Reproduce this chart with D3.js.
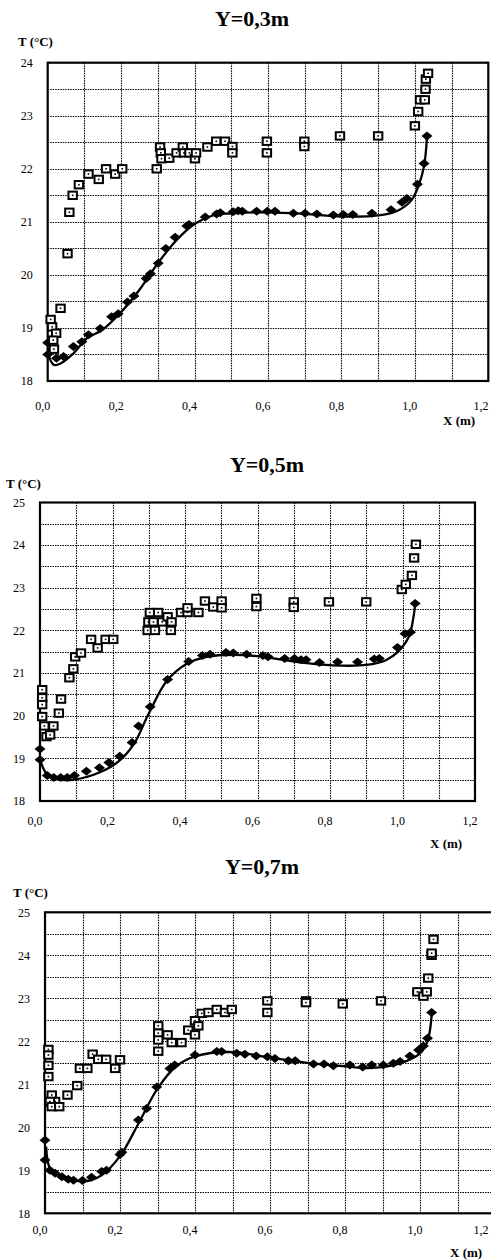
<!DOCTYPE html>
<html><head><meta charset="utf-8">
<script src="https://cdn.jsdelivr.net/npm/d3@7"></script>
<style>
html,body{margin:0;padding:0;background:#fff;}
svg{display:block;}
text{font-family:"Liberation Serif","Times New Roman",serif;fill:#000;}
</style></head>
<body>
<svg id="chart" width="491" height="1260"></svg>
<script>
// ---------- tick labels ----------
const xTickValues = [0, 0.2, 0.4, 0.6, 0.8, 1.0, 1.2];
const xTickLabels = ["0,0", "0,2", "0,4", "0,6", "0,8", "1,0", "1,2"];
const yTicksA = [18, 19, 20, 21, 22, 23, 24];
const yTicksB = [18, 19, 20, 21, 22, 23, 24, 25];
const titles = ["Y=0,3m", "Y=0,5m", "Y=0,7m"];

// ---------- Y = 0,3 m ----------
const squares03 = [[0.008,19.16],[0.012,19.02],[0.023,18.9],[0.015,18.77],[0.017,18.6],[0.035,19.37],[0.054,20.4],[0.059,21.18],[0.068,21.5],[0.085,21.7],[0.111,21.9],[0.139,21.8],[0.159,22.0],[0.184,21.9],[0.203,22.0],[0.297,22.0],[0.306,22.41],[0.308,22.3],[0.31,22.19],[0.331,22.2],[0.351,22.3],[0.368,22.41],[0.371,22.3],[0.386,22.3],[0.401,22.19],[0.404,22.3],[0.435,22.41],[0.459,22.52],[0.483,22.52],[0.503,22.42],[0.503,22.3],[0.597,22.52],[0.597,22.3],[0.699,22.52],[0.699,22.42],[0.796,22.62],[0.90,22.62],[1.0,22.81],[1.009,23.08],[1.014,23.3],[1.027,23.3],[1.029,23.5],[1.03,23.69],[1.036,23.8]];
const diamonds03 = [[0.0,18.72],[0.0,18.5],[0.024,18.43],[0.043,18.46],[0.07,18.65],[0.093,18.74],[0.111,18.87],[0.143,18.99],[0.174,19.21],[0.192,19.27],[0.217,19.49],[0.235,19.6],[0.268,19.93],[0.28,20.02],[0.301,20.22],[0.322,20.5],[0.347,20.71],[0.379,20.92],[0.385,20.95],[0.429,21.09],[0.46,21.15],[0.47,21.17],[0.505,21.19],[0.519,21.21],[0.53,21.2],[0.569,21.2],[0.598,21.2],[0.619,21.2],[0.669,21.16],[0.701,21.16],[0.733,21.15],[0.778,21.13],[0.805,21.14],[0.831,21.14],[0.883,21.16],[0.935,21.23],[0.965,21.37],[0.978,21.44],[1.007,21.71],[1.025,22.1],[1.033,22.62]];
const fit03 = [[0.0,18.62],[0.008,18.38],[0.018,18.3],[0.035,18.33],[0.07,18.52],[0.106,18.8],[0.15,18.97],[0.2,19.3],[0.25,19.72],[0.3,20.22],[0.35,20.65],[0.4,20.96],[0.45,21.12],[0.5,21.16],[0.6,21.18],[0.7,21.15],[0.8,21.1],[0.9,21.12],[0.95,21.2],[0.99,21.4],[1.01,21.68],[1.025,22.05],[1.033,22.6]];

// ---------- Y = 0,5 m ----------
const squares05 = [[0.006,20.61],[0.006,20.42],[0.006,20.26],[0.006,19.98],[0.012,19.76],[0.037,19.76],[0.018,19.51],[0.028,19.55],[0.058,20.39],[0.052,20.06],[0.081,20.89],[0.092,21.1],[0.097,21.38],[0.113,21.47],[0.141,21.79],[0.159,21.59],[0.181,21.79],[0.202,21.79],[0.297,22.0],[0.299,22.2],[0.303,22.42],[0.317,22.0],[0.313,22.2],[0.326,22.42],[0.337,22.2],[0.352,22.32],[0.363,22.2],[0.361,22.0],[0.389,22.42],[0.407,22.42],[0.407,22.53],[0.437,22.42],[0.455,22.69],[0.478,22.55],[0.501,22.69],[0.501,22.53],[0.597,22.75],[0.597,22.56],[0.70,22.67],[0.70,22.54],[0.797,22.67],[0.90,22.67],[0.998,22.96],[1.009,23.08],[1.026,23.29],[1.032,23.7],[1.037,24.02]];
const diamonds05 = [[0.0,19.22],[0.0,18.97],[0.02,18.6],[0.038,18.55],[0.057,18.55],[0.075,18.55],[0.095,18.6],[0.128,18.7],[0.164,18.78],[0.19,18.9],[0.22,19.05],[0.254,19.37],[0.272,19.76],[0.304,20.21],[0.352,20.85],[0.41,21.27],[0.448,21.41],[0.469,21.44],[0.513,21.48],[0.533,21.47],[0.57,21.44],[0.615,21.41],[0.629,21.38],[0.675,21.34],[0.702,21.34],[0.72,21.31],[0.734,21.31],[0.771,21.25],[0.821,21.26],[0.876,21.26],[0.922,21.33],[0.936,21.34],[0.986,21.6],[1.007,21.92],[1.022,21.96],[1.035,22.63]];
const fit05 = [[0.0,18.98],[0.02,18.62],[0.057,18.5],[0.093,18.5],[0.167,18.68],[0.22,18.95],[0.26,19.35],[0.3,20.05],[0.35,20.82],[0.405,21.22],[0.46,21.38],[0.533,21.43],[0.625,21.37],[0.716,21.25],[0.808,21.18],[0.9,21.19],[0.954,21.3],[0.99,21.52],[1.018,21.86],[1.03,22.3],[1.035,22.63]];

// ---------- Y = 0,7 m ----------
const squares07 = [[0.009,21.81],[0.009,21.68],[0.009,21.44],[0.009,21.18],[0.018,20.75],[0.027,20.6],[0.013,20.6],[0.018,20.48],[0.038,20.48],[0.06,20.75],[0.086,20.97],[0.093,21.37],[0.113,21.37],[0.127,21.7],[0.142,21.58],[0.163,21.58],[0.187,21.37],[0.2,21.57],[0.302,22.36],[0.302,22.19],[0.302,22.03],[0.302,21.77],[0.327,22.15],[0.338,21.97],[0.364,21.97],[0.382,22.26],[0.4,22.15],[0.4,22.48],[0.409,22.36],[0.418,22.65],[0.436,22.67],[0.458,22.74],[0.48,22.67],[0.498,22.74],[0.593,22.94],[0.593,22.67],[0.696,22.94],[0.696,22.9],[0.794,22.87],[0.896,22.94],[0.993,23.15],[1.009,23.05],[1.018,23.15],[1.022,23.47],[1.031,24.0],[1.031,24.05],[1.036,24.37]];
const diamonds07 = [[0.0,19.7],[0.0,19.24],[0.013,19.0],[0.027,18.93],[0.045,18.85],[0.062,18.79],[0.076,18.77],[0.1,18.76],[0.124,18.84],[0.151,18.97],[0.164,19.0],[0.2,19.37],[0.205,19.42],[0.249,20.17],[0.271,20.44],[0.298,20.94],[0.333,21.37],[0.346,21.45],[0.4,21.68],[0.458,21.76],[0.471,21.76],[0.511,21.72],[0.533,21.7],[0.563,21.66],[0.593,21.64],[0.613,21.6],[0.649,21.55],[0.667,21.55],[0.716,21.47],[0.744,21.47],[0.769,21.43],[0.813,21.45],[0.847,21.4],[0.871,21.45],[0.902,21.45],[0.929,21.49],[0.947,21.53],[0.973,21.66],[0.996,21.8],[1.009,21.89],[1.02,22.07],[1.031,22.67]];
const fit07 = [[0.003,19.55],[0.015,19.02],[0.05,18.85],[0.1,18.74],[0.15,18.88],[0.2,19.33],[0.25,20.1],[0.3,20.9],[0.35,21.42],[0.4,21.65],[0.5,21.75],[0.6,21.62],[0.7,21.5],[0.8,21.42],[0.87,21.38],[0.95,21.5],[1.0,21.72],[1.02,22.0],[1.031,22.6]];

// ---------- layout (positions only) ----------
const layouts = [
  {x0:47.7, x1:488.3, yTop:62.7, yBot:381, yMax:24, yTicks:yTicksA, titleX:252, titleY:26, tX:18, tY:46, xlX:443, xlY:425, xtY:410,
   squares:squares03, diamonds:diamonds03, fit:fit03},
  {x0:40, x1:475, yTop:502.5, yBot:801, yMax:25, yTicks:yTicksB, titleX:267, titleY:472, tX:6, tY:488, xlX:430, xlY:848, xtY:825,
   squares:squares05, diamonds:diamonds05, fit:fit05},
  {x0:45, x1:495, yTop:912.3, yBot:1213.3, yMax:25, yTicks:yTicksB, titleX:262, titleY:874, tX:13, tY:897, xlX:450, xlY:1257, xtY:1234,
   squares:squares07, diamonds:diamonds07, fit:fit07}
];

const W = 491;
const svg = d3.select("#chart");

layouts.forEach((L, i) => {
  const x = d3.scaleLinear().domain([0, 1.2]).range([L.x0, L.x1]);
  const y = d3.scaleLinear().domain([18, L.yMax]).range([L.yBot, L.yTop]);
  const g = svg.append("g");

  // title
  g.append("text").attr("x", L.titleX).attr("y", L.titleY).attr("text-anchor", "middle")
    .style("font-size", "22px").style("font-weight", "bold").text(titles[i]);
  // y axis title
  g.append("text").attr("x", L.tX).attr("y", L.tY).style("font-size", "13px").style("font-weight", "bold").text("T (°C)");
  // x axis title
  g.append("text").attr("x", L.xlX).attr("y", L.xlY).style("font-size", "13px").style("font-weight", "bold").text("X (m)");

  // grid (dotted)
  const xGrid = d3.range(1, 12).map(k => k / 10);
  const yGrid = d3.range(18.5, L.yMax, 0.5);
  const px = v => Math.round(v) + 0.5;
  g.append("g").selectAll("line").data(xGrid).join("line")
    .attr("x1", d => px(x(d))).attr("x2", d => px(x(d))).attr("y1", y(L.yMax)).attr("y2", y(18))
    .attr("stroke", "#000").attr("stroke-width", 1.1).attr("stroke-dasharray", "1.5,1");
  g.append("g").selectAll("line").data(yGrid).join("line")
    .attr("x1", x(0)).attr("x2", x(1.2)).attr("y1", d => px(y(d))).attr("y2", d => px(y(d)))
    .attr("stroke", "#000").attr("stroke-width", 1.1).attr("stroke-dasharray", "1.5,1");

  // frame
  g.append("rect").attr("x", x(0)).attr("y", y(L.yMax)).attr("width", x(1.2) - x(0)).attr("height", y(18) - y(L.yMax))
    .attr("fill", "none").attr("stroke", "#000").attr("stroke-width", 2.2);

  // tick labels
  g.append("g").selectAll("text").data(L.yTicks).join("text")
    .attr("x", x(0) - 15).attr("y", d => y(d)).attr("dy", "0.35em").attr("text-anchor", "end")
    .style("font-size", "12px").text(d => d);
  g.append("g").selectAll("text").data(xTickValues).join("text")
    .attr("x", d => Math.min(x(d) - 5, W - 10)).attr("y", L.xtY).attr("text-anchor", "middle")
    .style("font-size", "12px").text((d, k) => xTickLabels[k]);

  // fitted line
  const line = d3.line().x(d => x(d[0])).y(d => y(d[1])).curve(d3.curveCatmullRom.alpha(0.5));
  g.append("path").datum(L.fit).attr("d", line).attr("fill", "none").attr("stroke", "#000").attr("stroke-width", 2.3);

  // diamonds
  g.append("g").selectAll("path").data(L.diamonds).join("path")
    .attr("transform", d => `translate(${x(d[0])},${y(d[1])})`)
    .attr("d", "M-5.5,0L0,-4.5L5.5,0L0,4.5Z").attr("fill", "#000");

  // squares
  const sq = g.append("g").selectAll("g").data(L.squares).join("g")
    .attr("transform", d => `translate(${x(d[0])},${y(d[1])})`);
  sq.append("rect").attr("x", -4.2).attr("y", -3.7).attr("width", 8.4).attr("height", 7.4)
    .attr("fill", "#fff").attr("stroke", "#000").attr("stroke-width", 2);
  sq.append("rect").attr("x", -0.8).attr("y", -0.8).attr("width", 1.6).attr("height", 1.6).attr("fill", "#000");
});
</script>
</body></html>
